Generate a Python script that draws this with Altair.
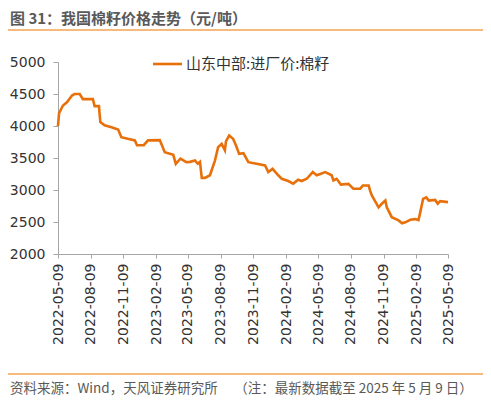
import altair as alt
import pandas as pd

dates = [
    "2022-05-09", "2022-05-12", "2022-05-23", "2022-06-03", "2022-06-18", "2022-06-25",
    "2022-07-09", "2022-07-18", "2022-08-15", "2022-08-20", "2022-09-01", "2022-09-05",
    "2022-09-17", "2022-10-06", "2022-10-25", "2022-11-03", "2022-11-21", "2022-12-11",
    "2022-12-17", "2023-01-05", "2023-01-17", "2023-02-19", "2023-03-05", "2023-03-29",
    "2023-04-05", "2023-04-18", "2023-05-05", "2023-05-15", "2023-05-29", "2023-06-06",
    "2023-06-12", "2023-06-17", "2023-06-26", "2023-07-10", "2023-07-24", "2023-08-02",
    "2023-08-12", "2023-08-21", "2023-08-24", "2023-09-02", "2023-09-13", "2023-09-21",
    "2023-09-30", "2023-10-12", "2023-10-26", "2023-11-18", "2023-12-12", "2023-12-21",
    "2024-01-02", "2024-01-18", "2024-01-28", "2024-02-15", "2024-02-29", "2024-03-14",
    "2024-03-24", "2024-04-07", "2024-04-24", "2024-05-05", "2024-05-15", "2024-05-29",
    "2024-06-16", "2024-06-21", "2024-06-30", "2024-07-12", "2024-08-02", "2024-08-16",
    "2024-09-04", "2024-09-12", "2024-09-28", "2024-10-02", "2024-10-07", "2024-10-26",
    "2024-11-04", "2024-11-14", "2024-11-18", "2024-12-02", "2024-12-21", "2024-12-31",
    "2025-01-09", "2025-01-23", "2025-02-06", "2025-02-15", "2025-02-20", "2025-02-28",
    "2025-03-09", "2025-03-16", "2025-04-03", "2025-04-10", "2025-04-17", "2025-05-09",
]
prices = [
    4000, 4200, 4320, 4370, 4480, 4500,
    4500, 4420, 4420, 4310, 4310, 4060,
    4010, 3980, 3945, 3825, 3800, 3775,
    3700, 3700, 3775, 3780, 3590, 3550,
    3410, 3490, 3435, 3440, 3460, 3410,
    3440, 3190, 3190, 3230, 3460, 3670,
    3720, 3620, 3760, 3850, 3800, 3700,
    3565, 3575, 3435, 3410, 3385, 3280,
    3330, 3230, 3175, 3140, 3100, 3160,
    3140, 3175, 3280, 3230, 3250, 3280,
    3230, 3150, 3175, 3085, 3095, 3020,
    3020, 3070, 3070, 2990, 2915, 2730,
    2785, 2835, 2730, 2575, 2525, 2480,
    2495, 2535, 2545, 2530, 2650, 2860,
    2885, 2835, 2845, 2785, 2825, 2810,
]
tick_dates = [(2022, 5), (2022, 8), (2022, 11), (2023, 2), (2023, 5), (2023, 8),
              (2023, 11), (2024, 2), (2024, 5), (2024, 8), (2024, 11), (2025, 2), (2025, 5)]
y_ticks = [2000, 2500, 3000, 3500, 4000, 4500, 5000]

series_name = "山东中部:进厂价:棉籽"
title_text = "图 31：我国棉籽价格走势（元/吨）"
footer_text = "资料来源：Wind，天风证券研究所　 （注：最新数据截至 2025 年 5 月 9 日）"

df = pd.DataFrame({"date": dates, "price": prices})

LINE_COLOR = "#E8700A"
RULE_COLOR = "#F4A352"
AXIS_COLOR = "#A6A6A6"
NUM_FONT = "DejaVu Sans"
CJK_FONT = "Noto Sans CJK SC"

x_values = [alt.DateTime(year=y, month=m, date=9, utc=True) for y, m in tick_dates]

line = alt.Chart(df).mark_line(color=LINE_COLOR, strokeWidth=2.6).encode(
    x=alt.X(
        "date:T",
        scale=alt.Scale(type="utc", domain=[x_values[0], x_values[-1]]),
        axis=alt.Axis(
            values=x_values, format="%Y-%m-%d", labelAngle=-90, title=None,
            domainColor=AXIS_COLOR, tickColor=AXIS_COLOR, tickSize=4,
            labelPadding=5, labelFontSize=14, labelColor="#333333",
            labelFont=NUM_FONT, grid=False, labelOverlap=False,
        ),
    ),
    y=alt.Y(
        "price:Q",
        scale=alt.Scale(domain=[2000, 5000], nice=False, zero=False),
        axis=alt.Axis(
            values=y_ticks, format="d", title=None, domainColor=AXIS_COLOR,
            tickColor=AXIS_COLOR, tickSize=5, labelPadding=8, labelFontSize=14,
            labelColor="#333333", labelFont=NUM_FONT, grid=False,
        ),
    ),
)

one = pd.DataFrame({"t": [0]})

title = alt.Chart(pd.DataFrame({"t": [title_text]})).mark_text(
    align="left", baseline="middle", font=CJK_FONT, fontSize=15, fontWeight="bold",
    color="#595959", clip=False,
).encode(text="t:N", x=alt.value(-48), y=alt.value(-43))

top_rule = alt.Chart(one).mark_rule(color=RULE_COLOR, strokeWidth=1.5, clip=False).encode(
    x=alt.value(-50), x2=alt.value(425), y=alt.value(-32)
)
bottom_rule = alt.Chart(one).mark_rule(color=RULE_COLOR, strokeWidth=1.5, clip=False).encode(
    x=alt.value(-50), x2=alt.value(425), y=alt.value(312)
)
footer = alt.Chart(pd.DataFrame({"t": [footer_text]})).mark_text(
    align="left", baseline="middle", font=CJK_FONT, fontSize=13.5, color="#595959", clip=False,
).encode(text="t:N", x=alt.value(-48), y=alt.value(327))

legend_sym = alt.Chart(one).mark_rule(color=LINE_COLOR, strokeWidth=2.6, clip=False).encode(
    x=alt.value(95), x2=alt.value(124), y=alt.value(2)
)
legend_txt = alt.Chart(pd.DataFrame({"t": [series_name]})).mark_text(
    align="left", baseline="middle", font=CJK_FONT, fontSize=15, color="#333333", clip=False,
).encode(text="t:N", x=alt.value(128), y=alt.value(2))

chart = alt.layer(line, title, top_rule, bottom_rule, footer, legend_sym, legend_txt).properties(
    width=390, height=192,
    autosize=alt.AutoSizeParams(type="none"),
    padding={"left": 50, "top": 54, "right": 35, "bottom": 142},
).configure_view(stroke=None)

chart.save("out.html", embed_options={"renderer": "svg", "actions": False})
